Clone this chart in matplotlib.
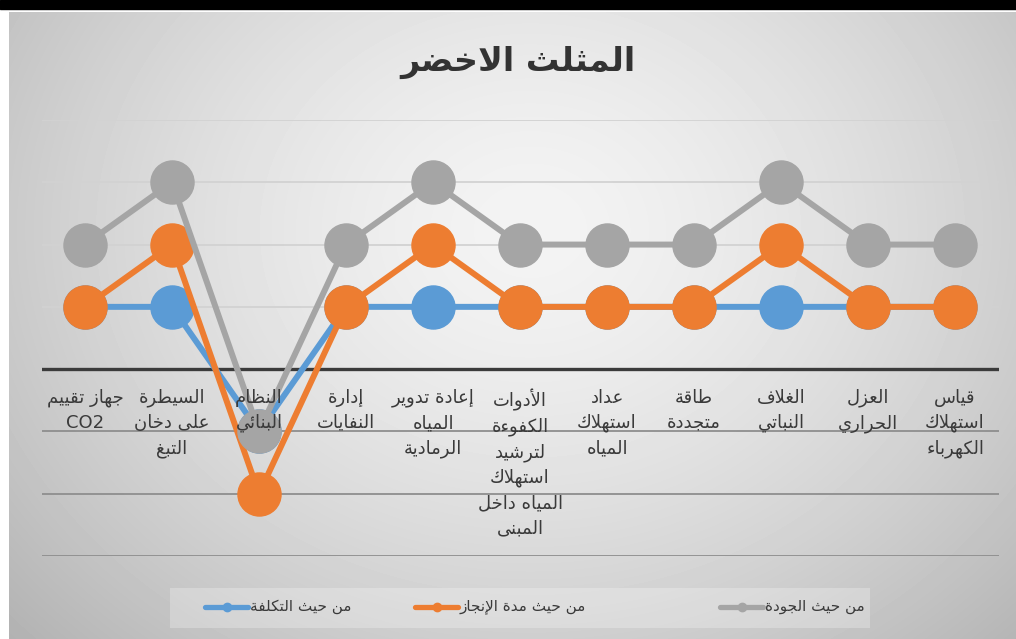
import numpy as np
import matplotlib
matplotlib.use("Agg")
import matplotlib.pyplot as plt
from matplotlib.lines import Line2D
from matplotlib.patches import Rectangle

# data (left to right as drawn)
categories = [
    "جهاز تقييم\nCO2",
    "السيطرة\nعلى دخان\nالتبغ",
    "النظام\nالبنائي",
    "إدارة\nالنفايات",
    "إعادة تدوير\nالمياه\nالرمادية",
    "الأدوات\nالكفوءة\nلترشيد\nاستهلاك\nالمياه داخل\nالمبنى",
    "عداد\nاستهلاك\nالمياه",
    "طاقة\nمتجددة",
    "الغلاف\nالنباتي",
    "العزل\nالحراري",
    "قياس\nاستهلاك\nالكهرباء",
]
cost = [1, 1, -1, 1, 1, 1, 1, 1, 1, 1, 1]
duration = [1, 2, -2, 1, 2, 1, 1, 1, 2, 1, 1]
quality = [2, 3, -1, 2, 3, 2, 2, 2, 3, 2, 2]
series_names = ["من حيث التكلفة", "من حيث مدة الإنجاز", "من حيث الجودة"]
title = "المثلث الاخضر"

colors = ["#5b9bd5", "#ed7d31", "#a5a5a5"]

# matplotlib has no arabic shaping, so map letters to presentation forms
DUAL = {'ب': 0xFE8F, 'ت': 0xFE95, 'ث': 0xFE99, 'ج': 0xFE9D, 'ح': 0xFEA1, 'خ': 0xFEA5,
        'س': 0xFEB1, 'ش': 0xFEB5, 'ص': 0xFEB9, 'ض': 0xFEBD, 'ط': 0xFEC1, 'ظ': 0xFEC5,
        'ع': 0xFEC9, 'غ': 0xFECD, 'ف': 0xFED1, 'ق': 0xFED5, 'ك': 0xFED9, 'ل': 0xFEDD,
        'م': 0xFEE1, 'ن': 0xFEE5, 'ه': 0xFEE9, 'ي': 0xFEF1, 'ئ': 0xFE89}
RIGHT = {'ا': 0xFE8D, 'أ': 0xFE83, 'إ': 0xFE87, 'آ': 0xFE81, 'ة': 0xFE93, 'د': 0xFEA9,
         'ذ': 0xFEAB, 'ر': 0xFEAD, 'ز': 0xFEAF, 'و': 0xFEED, 'ى': 0xFEEF, 'ؤ': 0xFE85}
NONE = {'ء': 0xFE80}
LAMALEF = {'ا': 0xFEFB, 'أ': 0xFEF7, 'إ': 0xFEF9, 'آ': 0xFEF5}


def kind(t):
    if t[0] == 'LA':
        return 'R'
    c = t[1]
    if c in DUAL:
        return 'D'
    if c in RIGHT:
        return 'R'
    if c in NONE:
        return 'U'
    return 'X'


def is_arabic(w):
    return any('\u0600' <= c <= '\u06ff' for c in w)


def shape_word(w):
    if not is_arabic(w):
        return w
    toks = []
    i = 0
    while i < len(w):
        if w[i] == 'ل' and i + 1 < len(w) and w[i + 1] in LAMALEF:
            toks.append(('LA', LAMALEF[w[i + 1]]))
            i += 2
        else:
            toks.append(('C', w[i]))
            i += 1
    out = []
    for j, t in enumerate(toks):
        k = kind(t)
        prev = kind(toks[j - 1]) if j > 0 else 'X'
        nxt = kind(toks[j + 1]) if j + 1 < len(toks) else 'X'
        jp = k in 'DR' and prev == 'D'
        jn = k == 'D' and nxt in 'DR'
        if t[0] == 'LA':
            base = t[1]
        elif k == 'D':
            base = DUAL[t[1]]
        elif k == 'R':
            base = RIGHT[t[1]]
        elif k == 'U':
            base = NONE[t[1]]
        else:
            out.append(t[1])
            continue
        off = (3 if jn else 1) if jp else (2 if jn else 0)
        out.append(chr(base + off))
    return ''.join(reversed(out))


def ar(text):
    # right-to-left lines: shape each word and reverse the word order
    lines = []
    for line in text.split('\n'):
        words = [shape_word(w) for w in line.split(' ')]
        lines.append(' '.join(reversed(words)))
    return '\n'.join(lines)


plt.rcParams['font.family'] = ['DejaVu Sans']
W, H = 1016, 639
fig = plt.figure(figsize=(W / 100, H / 100), dpi=100, facecolor='white')


def fx(x):
    return x / W


def fy(y):
    return 1 - y / H


# screenshot frame: black strip on top, chart area with radial gray gradient
fig.patches.append(Rectangle((0, fy(9)), 1, 9 / H, transform=fig.transFigure,
                             color='black', zorder=0))
bg = fig.add_axes([fx(9), 0, 1 - fx(9), fy(12)], zorder=0)
yy, xx = np.mgrid[12:H, 9:W]
r = np.sqrt(((xx - 530) / 560.0) ** 2 + ((yy - 230) / 470.0) ** 2)
shade = 0.955 - 0.18 * np.clip(r, 0, 1.3) ** 1.5
bg.imshow(shade, cmap='gray', vmin=0, vmax=1, aspect='auto', interpolation='bilinear')
bg.axis('off')

ax = fig.add_axes([fx(41.5), fy(556), fx(957), 436 / H], zorder=1)
ax.patch.set_alpha(0)
x = np.arange(len(categories))

for v in range(-3, 5):
    if v == 0:
        ax.axhline(v, color='#3b3b3b', lw=2.4, zorder=1.6)
    else:
        ax.axhline(v, color='#d2d2d2' if v > 0 else '#8e8e8e', lw=1.3, zorder=1)

for i, vals in enumerate([cost, duration, quality]):
    ax.plot(x, vals, color=colors[i], lw=4.3, marker='o', ms=31,
            solid_capstyle='round', zorder=2 + i * 0.1)

ax.set_xlim(-0.5, len(categories) - 0.5)
ax.set_ylim(-3, 4)
for s in ax.spines.values():
    s.set_visible(False)
ax.spines['bottom'].set_position(('data', 0))
ax.set_yticks([])
ax.set_xticks(x)
ax.set_xticklabels([ar(c) for c in categories], fontsize=13, color='#3a3a3a',
                   linespacing=1.5, va='top')
ax.tick_params(axis='x', length=0, pad=14)
ax.set_axisbelow(False)

fig.text(fx(518), fy(62), ar(title), ha='center', va='center', fontsize=24,
         fontweight='bold', color='#333333')

# legend box
fig.patches.append(Rectangle((fx(170), fy(628)), fx(700), 40 / H, transform=fig.transFigure,
                             facecolor='white', alpha=0.25, edgecolor='none', zorder=2))
leg_x = [205, 415, 720]
for i, name in enumerate(series_names):
    x0 = leg_x[i]
    fig.add_artist(Line2D([fx(x0), fx(x0 + 43)], [fy(607), fy(607)], transform=fig.transFigure,
                          color=colors[i], lw=3.8, solid_capstyle='round', zorder=3))
    fig.add_artist(Line2D([fx(x0 + 21.5)], [fy(607)], transform=fig.transFigure,
                          color=colors[i], marker='o', ms=6, zorder=3))
    fig.text(fx(x0 + 45), fy(607), ar(name), ha='left', va='center', fontsize=11,
             color='#3a3a3a', zorder=4)

fig.savefig('out.png', dpi=100, facecolor=fig.get_facecolor())
